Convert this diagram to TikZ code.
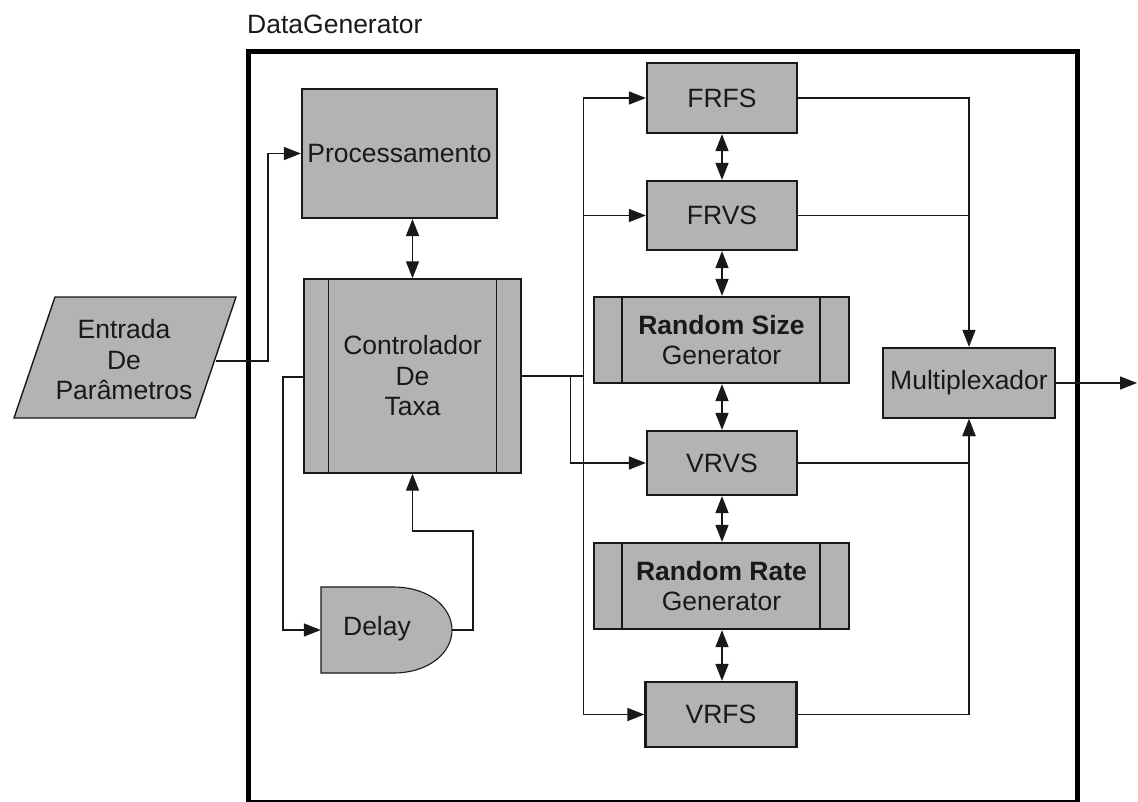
\documentclass[tikz,border=0pt]{standalone}
\usepackage{fontspec}
\setmainfont{Liberation Sans}
\usetikzlibrary{arrows.meta,calc}
\definecolor{boxgray}{RGB}{179,179,179}
\definecolor{ink}{RGB}{25,25,25}
\tikzset{
  every node/.style={font=\fontsize{26.5}{30.5}\selectfont, text=ink, align=center, inner sep=0pt},
  blk/.style={draw=ink, fill=boxgray, line width=2.2pt},
  thinblk/.style={draw=ink, fill=boxgray, line width=1.4pt},
  conn/.style={draw=ink, line width=1.4pt},
  tip/.style={-{Triangle[length=17pt,width=13pt]}},
  bitip/.style={{Triangle[length=17pt,width=13pt]}-{Triangle[length=17pt,width=13pt]}},
  frame/.style={draw=black, line width=5pt},
}
\begin{document}
\begin{tikzpicture}[x=1pt,y=-1pt]
\useasboundingbox (0,0) rectangle (1138,801);
% frame and title
\draw[frame] (248,51) rectangle (1077,802);
\node[anchor=west] (title) at (247,24) {DataGenerator};

% parameter input (parallelogram)
\draw[thinblk] (55,297) -- (236,297) -- (195,418) -- (14,418) -- cycle;
\node (param) at (124,360) {Entrada\\De\\Parâmetros};
\coordinate (paramout) at (216,361);

% Processamento
\node[blk, minimum width=195pt, minimum height=129pt] (proc) at (399.5,153.5) {Processamento};

% Controlador
\node[thinblk, minimum width=217pt, minimum height=194pt] (ctl) at (412.5,376) {Controlador\\De\\Taxa};
\draw[ink, line width=1.4pt] ($(ctl.north west)+(25,0)$) -- ($(ctl.south west)+(25,0)$);
\draw[ink, line width=1.4pt] ($(ctl.north east)+(-25,0)$) -- ($(ctl.south east)+(-25,0)$);

% Delay
\node[minimum width=131pt, minimum height=86pt] (delay) at (386.5,630) {};
\draw[ink, fill=boxgray, line width=1.1pt] (321,587) -- (393,587) .. controls (430,587) and (452,608) .. (452,630) .. controls (452,652) and (430,673) .. (393,673) -- (321,673) -- cycle;
\node at (377,629) {Delay};

% right column
\node[blk, minimum width=150pt, minimum height=70pt] (frfs) at (722,98) {FRFS};
\node[blk, minimum width=150pt, minimum height=69pt] (frvs) at (722,215.5) {FRVS};
\node[blk, minimum width=255pt, minimum height=86pt] (rsg) at (721.5,340) {\textbf{Random Size}\\Generator};
\draw[ink, line width=2.2pt] ($(rsg.north west)+(29,0)$) -- ($(rsg.south west)+(29,0)$);
\draw[ink, line width=2.2pt] ($(rsg.north east)+(-30,0)$) -- ($(rsg.south east)+(-30,0)$);
\node[blk, minimum width=150pt, minimum height=64pt] (vrvs) at (722,463) {VRVS};
\node[blk, minimum width=255pt, minimum height=86pt] (rrg) at (721.5,586) {\textbf{Random Rate}\\Generator};
\draw[ink, line width=2.2pt] ($(rrg.north west)+(29,0)$) -- ($(rrg.south west)+(29,0)$);
\draw[ink, line width=2.2pt] ($(rrg.north east)+(-30,0)$) -- ($(rrg.south east)+(-30,0)$);
\node[blk, minimum width=151pt, minimum height=65pt] (vrfs) at (721,714.5) {VRFS};

% Multiplexador
\node[blk, minimum width=172pt, minimum height=70pt] (mux) at (969,383) {Multiplexador};

% junction coordinates
\coordinate (pin) at (268,361);
\coordinate (cl) at (283,377);
\coordinate (dl) at (473,630);
\coordinate (dm) at (473,531);
\coordinate (jA) at ($(ctl.east)+(62,0)$);
\coordinate (jB) at ($(ctl.east)+(49,0)$);
\coordinate (out) at (1137,383);

% connectors
\draw[conn, tip] (paramout) -- (pin) |- (proc.west);
\draw[conn, bitip] (proc.south -| ctl.north) -- (ctl.north);
\draw[conn, tip] (ctl.west |- cl) -- (cl) |- (delay.west);
\draw[conn, tip] (452,630) -- (dl) -- (dm) -| (ctl.south);
\draw[conn] (ctl.east) -- (jA);
\draw[conn, tip] (jA) |- (frfs.west);
\draw[conn, tip] (jA |- frvs.west) -- (frvs.west);
\draw[conn, tip] (jA) |- (vrfs.west);
\draw[conn, tip] (jB) |- (vrvs.west);

\draw[conn, bitip] (frfs.south) -- (frvs.north);
\draw[conn, bitip] (frvs.south) -- (frvs.south |- rsg.north);
\draw[conn, bitip] (frvs.south |- rsg.south) -- (vrvs.north);
\draw[conn, bitip] (vrvs.south) -- (vrvs.south |- rrg.north);
\draw[conn, bitip] (vrvs.south |- rrg.south) -- (vrvs.south |- vrfs.north);

\draw[conn, tip] (frfs.east) -| (mux.north);
\draw[conn] (frvs.east) -- (frvs.east -| mux.north);
\draw[conn, tip] (vrvs.east) -| (mux.south);
\draw[conn, tip] (vrfs.east) -| (mux.south);
\draw[conn, tip] (mux.east) -- (out);
\end{tikzpicture}
\end{document}
